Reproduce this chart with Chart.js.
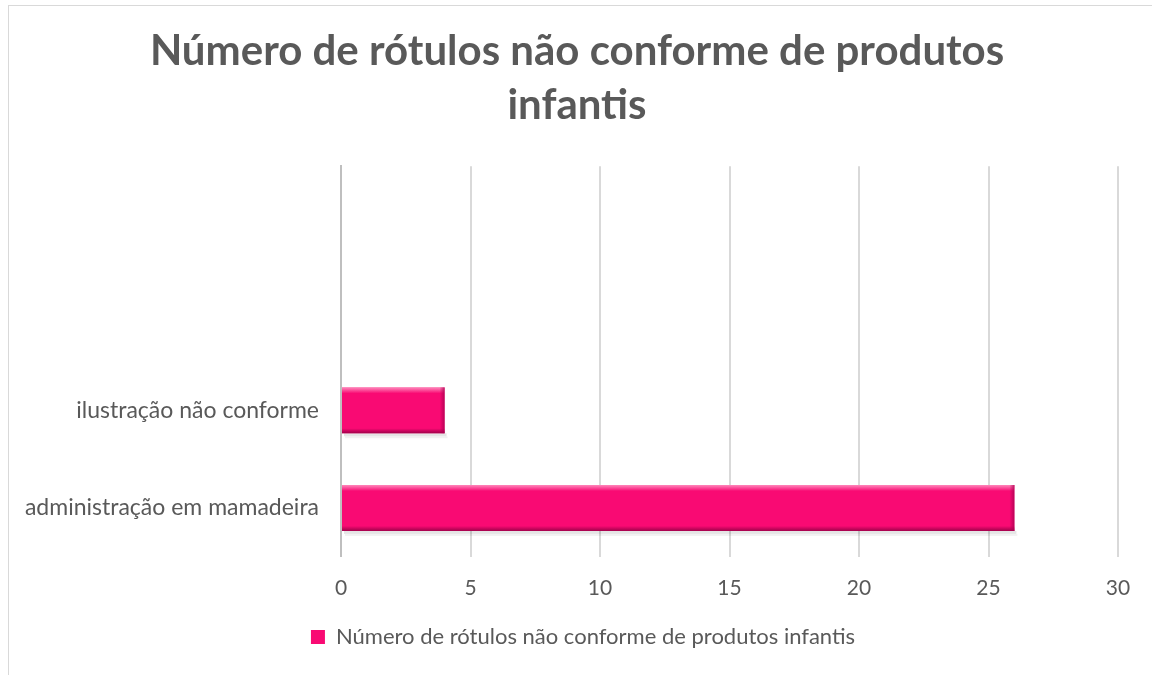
<!DOCTYPE html>
<html lang="pt">
<head>
<meta charset="utf-8">
<title>Número de rótulos não conforme de produtos infantis</title>
<script src="https://cdn.jsdelivr.net/npm/chart.js@4"></script>
<style>
  html, body { margin: 0; padding: 0; background: #fff; }
  #frame {
    position: absolute; left: 8px; top: 5px; width: 1200px; height: 700px;
    border: 1px solid #d9d9d9; box-sizing: border-box;
  }
  #wrap { position: absolute; left: 0; top: 0; width: 1152px; height: 675px; }
</style>
</head>
<body>
<div id="frame"></div>
<div id="wrap"><canvas id="chart" width="1152" height="675"></canvas></div>
<script>
// chart data (top to bottom, the two first rows are empty in the original)
const categories = ["", " ", "ilustração não conforme", "administração em mamadeira"];
const values = [null, null, 4, 26];
const seriesName = "Número de rótulos não conforme de produtos infantis";
const titleLines = ["Número de rótulos não conforme de produtos", "infantis"];
const xMin = 0;
const xMax = 30;
const xStep = 5;

const textColor = "#595959";
const barColor = "#f90a73";
const fontFamily = "Lato, 'Open Sans', sans-serif";

// light top edge + dark bottom edge, like the bevelled bars of the original
const bevelPlugin = {
  id: "bevel",
  afterLayout(chart) {
    // title and legend in the original sit a bit right of the page centre
    chart.titleBlock.left += 14;
    chart.titleBlock.right += 14;
    chart.legend.left += 20;
    chart.legend.right += 20;
  },
  afterDatasetsDraw(chart) {
    const c = chart.ctx;
    chart.getDatasetMeta(0).data.forEach((bar) => {
      if (bar.skip || bar.x === bar.base) return;
      const left = Math.min(bar.base, bar.x);
      const right = Math.max(bar.base, bar.x);
      const top = bar.y - bar.height / 2;
      const bottom = bar.y + bar.height / 2;
      c.save();
      // soft shadow under the bar
      c.fillStyle = "rgba(0,0,0,0.10)";
      c.fillRect(left + 2, bottom, right - left, 3);
      c.fillStyle = "rgba(0,0,0,0.05)";
      c.fillRect(left + 3, bottom + 3, right - left, 2);
      // top highlight
      const g = c.createLinearGradient(0, top, 0, top + 6);
      g.addColorStop(0, "rgba(255,150,195,0.9)");
      g.addColorStop(1, "rgba(255,150,195,0)");
      c.fillStyle = g;
      c.fillRect(left, top, right - left, 6);
      // bottom dark edge
      const b = c.createLinearGradient(0, bottom - 5, 0, bottom);
      b.addColorStop(0, "rgba(150,0,70,0)");
      b.addColorStop(1, "rgba(150,0,70,0.9)");
      c.fillStyle = b;
      c.fillRect(left, bottom - 5, right - left, 5);
      // right dark edge
      const r = c.createLinearGradient(right - 5, 0, right, 0);
      r.addColorStop(0, "rgba(170,0,80,0)");
      r.addColorStop(1, "rgba(170,0,80,0.8)");
      c.fillStyle = r;
      c.fillRect(right - 5, top, 5, bottom - top);
      c.restore();
    });
  },
};

const ctx = document.getElementById("chart").getContext("2d");

new Chart(ctx, {
  type: "bar",
  data: {
    labels: categories,
    datasets: [
      {
        label: seriesName,
        data: values,
        backgroundColor: barColor,
        borderWidth: 0,
        categoryPercentage: 1,
        barPercentage: 0.47,
      },
    ],
  },
  plugins: [bevelPlugin],
  options: {
    indexAxis: "y",
    responsive: false,
    animation: false,
    layout: {
      padding: { left: 8, right: 34, top: 0, bottom: 17 },
    },
    plugins: {
      title: {
        display: true,
        text: titleLines,
        color: textColor,
        font: { family: fontFamily, size: 42, weight: "bold", lineHeight: 1.3 },
        padding: { top: 24, bottom: 33 },
      },
      legend: {
        position: "bottom",
        labels: {
          color: textColor,
          font: { family: fontFamily, size: 22 },
          boxWidth: 14,
          boxHeight: 14,
          padding: 6,
        },
      },
      tooltip: { enabled: false },
    },
    scales: {
      x: {
        min: xMin,
        max: xMax,
        ticks: {
          stepSize: xStep,
          color: textColor,
          font: { family: fontFamily, size: 21 },
          padding: 19,
        },
        grid: { color: "#d9d9d9", lineWidth: 2, drawTicks: false },
        border: { display: false },
      },
      y: {
        afterFit: (scale) => { scale.width = 333; },
        ticks: {
          color: textColor,
          font: { family: fontFamily, size: 23 },
          padding: 14,
        },
        grid: { display: false },
        border: { display: true, color: "#bfbfbf", width: 2 },
      },
    },
  },
});
</script>
</body>
</html>
